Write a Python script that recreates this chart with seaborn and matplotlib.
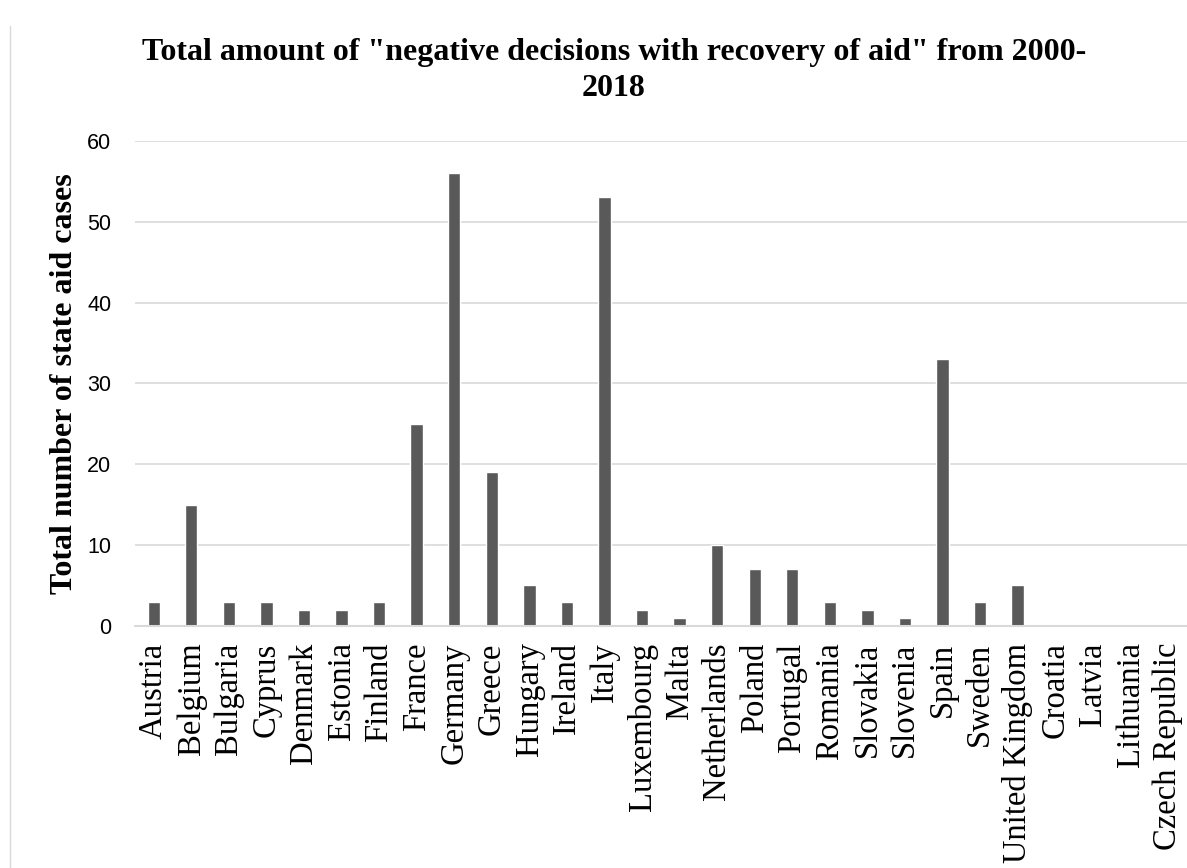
import pandas as pd
import matplotlib.pyplot as plt
import seaborn as sns

# ===== data =====
countries = ["Austria", "Belgium", "Bulgaria", "Cyprus", "Denmark", "Estonia", "Finland",
             "France", "Germany", "Greece", "Hungary", "Ireland", "Italy", "Luxembourg",
             "Malta", "Netherlands", "Poland", "Portugal", "Romania", "Slovakia", "Slovenia",
             "Spain", "Sweden", "United Kingdom", "Croatia", "Latvia", "Lithuania",
             "Czech Republic"]
cases = [3, 15, 3, 3, 2, 2, 3, 25, 56, 19, 5, 3, 53, 2, 1, 10, 7, 7, 3, 2, 1, 33, 3, 5,
         0, 0, 0, 0]
y_ticks = [0, 10, 20, 30, 40, 50, 60]

df = pd.DataFrame({"country": countries, "cases": cases})

# ===== plot =====
sns.set_style("white")
plt.rcParams["text.color"] = "black"
plt.rcParams["xtick.color"] = "black"
plt.rcParams["ytick.color"] = "black"
plt.rcParams["axes.labelcolor"] = "black"

fig = plt.figure(figsize=(11.87, 8.68), dpi=100)
ax = fig.add_axes([0.1137, 0.279, 0.886, 0.5587])

sns.barplot(data=df, x="country", y="cases", color="#595959", saturation=1,
            width=0.33, ax=ax)

ax.set_ylim(0, 60)
ax.set_xlim(-0.5, len(countries) - 0.5)
ax.set_yticks(y_ticks)
ax.set_yticklabels([str(t) for t in y_ticks], fontsize=15.5, family="Liberation Sans")
ax.set_xticks(range(len(countries)))
ax.set_xticklabels(countries, rotation=90, fontsize=23.5, family="Liberation Serif")
ax.tick_params(axis="x", length=0, pad=12)
ax.tick_params(axis="y", length=0, pad=17)
ax.yaxis.grid(True, color="#d9d9d9", linewidth=1.2)
ax.set_axisbelow(True)
for s in ["top", "right", "left"]:
    ax.spines[s].set_visible(False)
ax.spines["bottom"].set_color("#d9d9d9")
ax.spines["bottom"].set_linewidth(1.5)

ax.set_xlabel("")
ax.set_ylabel("Total number of state aid cases", fontsize=23, fontweight="bold",
              family="Liberation Serif", labelpad=6)

fig.text(0.517, 0.919, 'Total amount of "negative decisions with recovery of aid" from 2000-\n2018',
         ha="center", va="center", fontsize=23, fontweight="bold",
         family="Liberation Serif", linespacing=1.3)

# thin border on the left like the source image
fig.add_artist(plt.Line2D([0.0085, 0.0085], [0, 0.97], color="#d9d9d9", linewidth=1))

fig.savefig("out.png", dpi=100)
